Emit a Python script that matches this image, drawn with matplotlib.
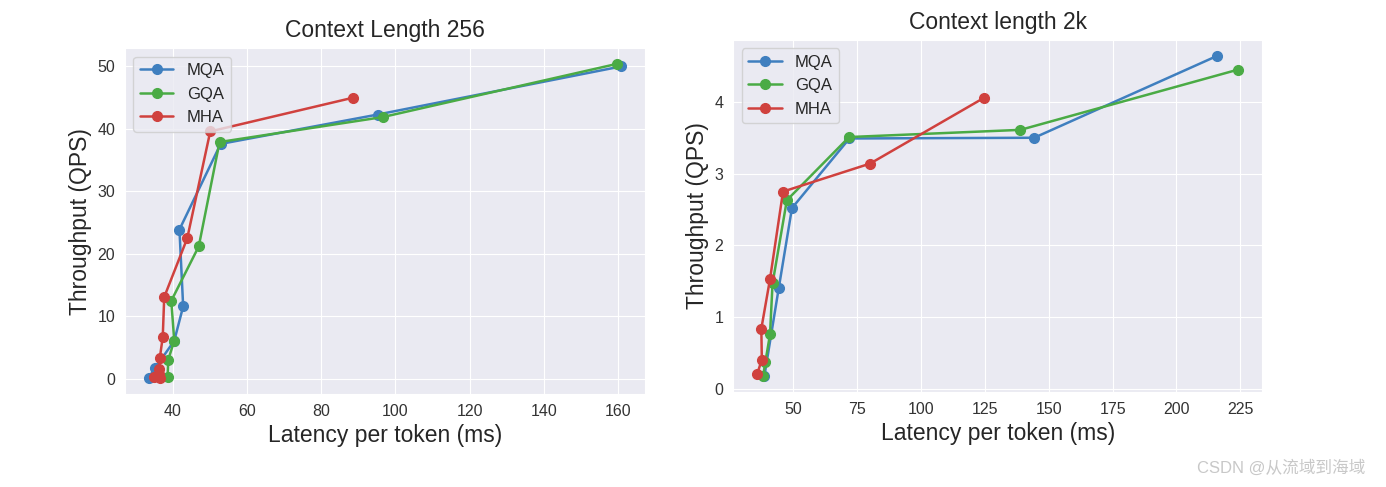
import matplotlib
matplotlib.use("Agg")
import matplotlib.pyplot as plt
import seaborn as sns

sns.set_style("darkgrid")
plt.rcParams['font.family'] = ['Liberation Sans', 'DejaVu Sans', 'Noto Sans CJK SC']

# Context length 256
mqa_256_x = [33.5, 35.2, 40.4, 42.8, 41.8, 52.9, 95.2, 160.8]
mqa_256_y = [0.2, 1.7, 6.1, 11.6, 23.9, 37.6, 42.3, 50.0]
gqa_256_x = [38.6, 38.8, 40.4, 39.6, 47.0, 52.6, 96.6, 159.6]
gqa_256_y = [0.3, 3.1, 6.1, 12.5, 21.2, 37.9, 41.9, 50.4]
mha_256_x = [35.0, 36.5, 36.2, 36.4, 36.5, 37.3, 37.7, 43.9, 50.1, 88.6]
mha_256_y = [0.3, 0.1, 0.8, 1.6, 3.3, 6.7, 13.1, 22.5, 39.6, 45.0]

# Context length 2k
mqa_2k_x = [38.6, 44.2, 49.4, 71.9, 144.3, 215.9]
mqa_2k_y = [0.18, 1.40, 2.52, 3.49, 3.50, 4.64]
gqa_2k_x = [38.1, 39.0, 40.8, 41.8, 47.4, 71.8, 138.9, 224.2]
gqa_2k_y = [0.18, 0.38, 0.76, 1.47, 2.63, 3.51, 3.61, 4.45]
mha_2k_x = [35.8, 37.6, 37.4, 40.8, 45.9, 80.0, 124.8]
mha_2k_y = [0.21, 0.41, 0.84, 1.53, 2.75, 3.14, 4.06]

colors = {"MQA": "#3f7fbf", "GQA": "#4aab45", "MHA": "#d0413e"}

fig = plt.figure(figsize=(13.86, 4.87), dpi=100)
ax1 = fig.add_axes([0.0902, 0.191, 0.375, 0.710])
ax2 = fig.add_axes([0.529, 0.195, 0.3817, 0.723])

panels = [
    (ax1, "Context Length 256",
     [("MQA", mqa_256_x, mqa_256_y), ("GQA", gqa_256_x, gqa_256_y), ("MHA", mha_256_x, mha_256_y)]),
    (ax2, "Context length 2k",
     [("MQA", mqa_2k_x, mqa_2k_y), ("GQA", gqa_2k_x, gqa_2k_y), ("MHA", mha_2k_x, mha_2k_y)]),
]

for ax, title, series in panels:
    for name, xs, ys in series:
        ax.plot(xs, ys, marker="o", markersize=7, linewidth=1.8,
                color=colors[name], label=name)
    ax.set_title(title, fontsize=16.5, color="#262626", pad=8)
    ax.set_xlabel("Latency per token (ms)", fontsize=16.5, color="#262626")
    ax.set_ylabel("Throughput (QPS)", fontsize=16.5, color="#262626")
    ax.tick_params(labelsize=11.5, colors="#333333")
    ax.legend(loc="upper left", fontsize=12)

ax2.set_xticks([50, 75, 100, 125, 150, 175, 200, 225])

fig.text(0.985, 0.04, "CSDN @从流域到海域", ha="right", va="center",
         fontsize=12, color="#c8c8c8",
         family=['Liberation Sans', 'Noto Sans CJK SC'])

fig.savefig("out.png", dpi=100)
